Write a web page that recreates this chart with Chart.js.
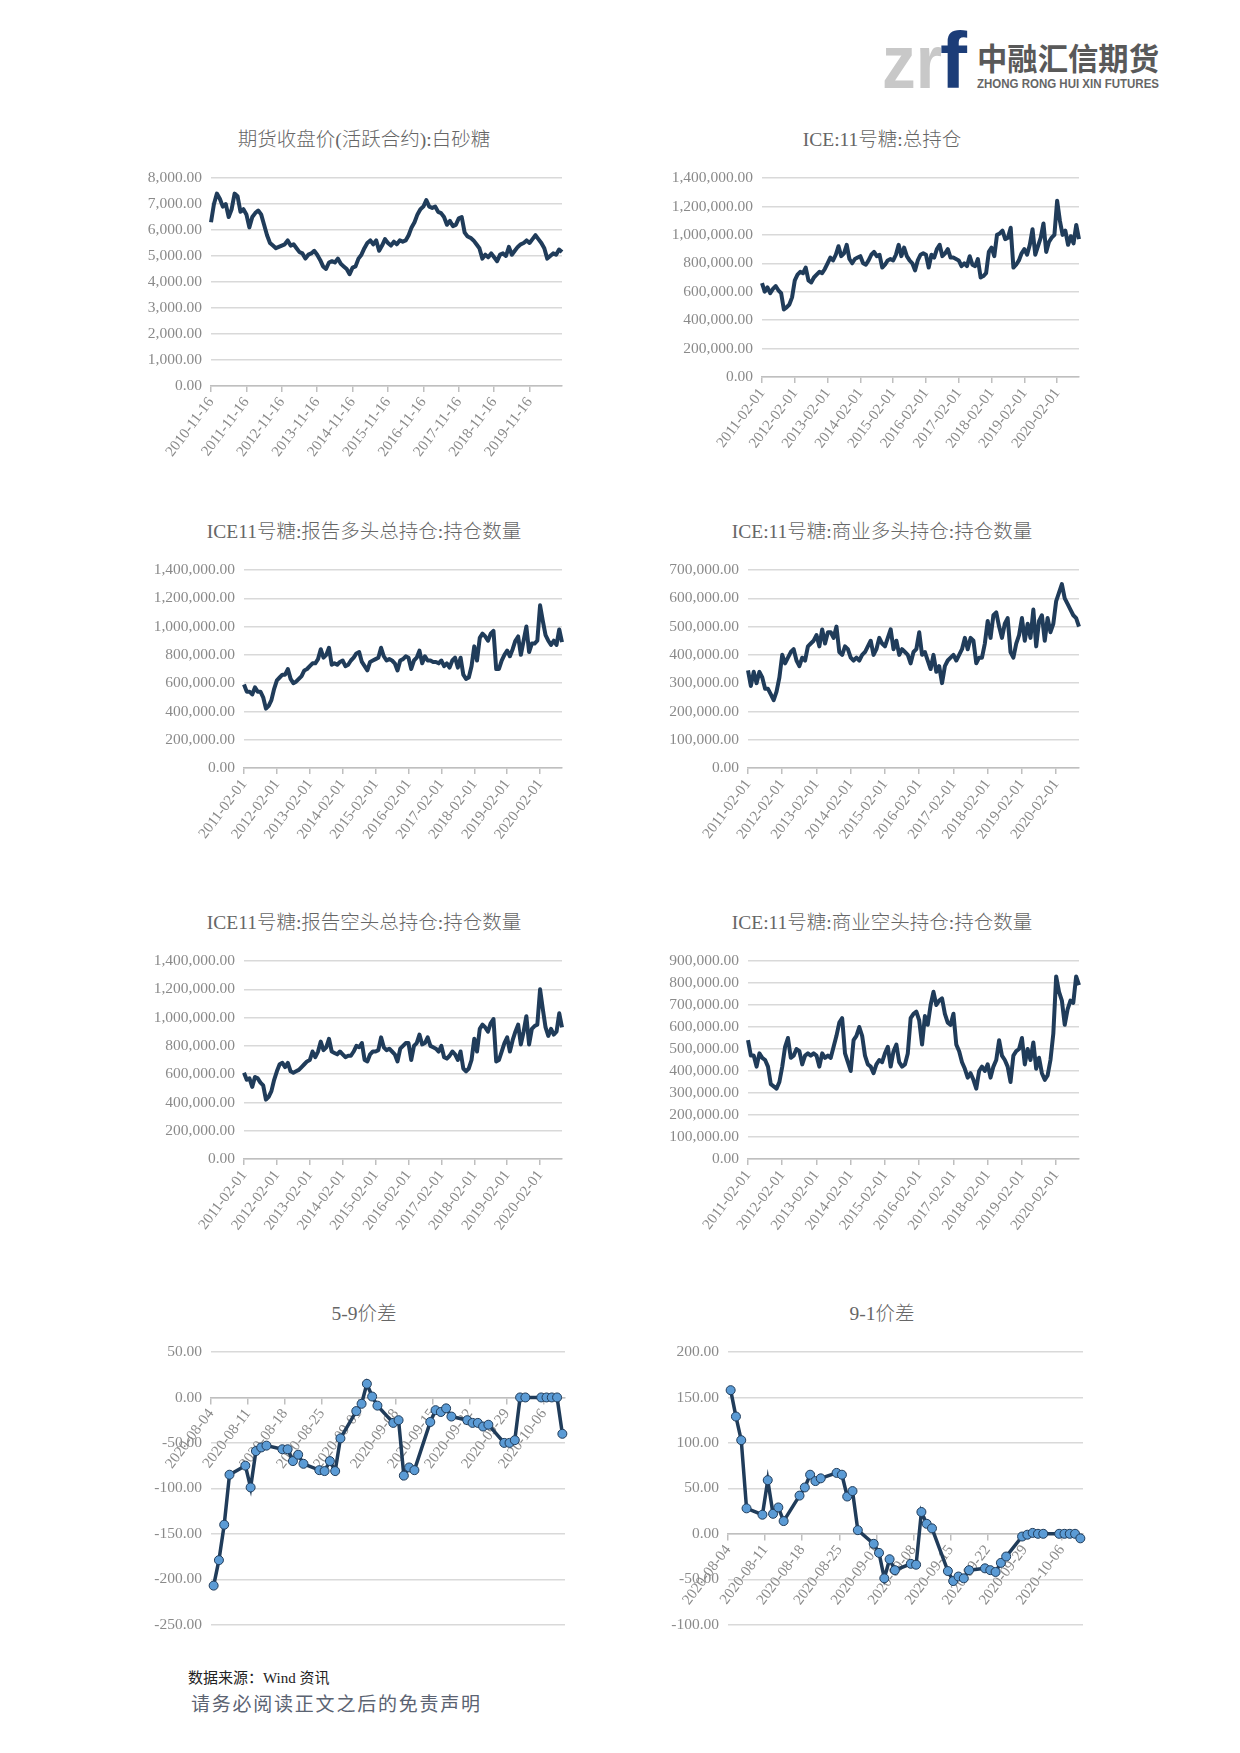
<!DOCTYPE html>
<html>
<head>
<meta charset="utf-8">
<script src="https://cdn.jsdelivr.net/npm/chart.js"></script>
<style>
  html, body { margin: 0; padding: 0; background: #fff; }
  #page { position: relative; width: 1240px; height: 1753px; overflow: hidden; background: #fff; }
  #overlay { position: absolute; left: 0; top: 0; }
</style>
</head>
<body>
<div id="page">
  <svg id="overlay" width="1240" height="1753">
    <text x="882" y="88" style="font-family:'Liberation Sans';font-weight:bold;font-size:76px;fill:#c8c8c8" textLength="60" lengthAdjust="spacingAndGlyphs">zr</text>
    <text x="940" y="88" style="font-family:'Liberation Sans';font-weight:bold;font-size:80px;fill:#1c3d78" textLength="27" lengthAdjust="spacingAndGlyphs">f</text>
    <text x="977" y="70" style="font-family:'Noto Sans CJK SC';font-weight:bold;font-size:31px;fill:#595959" textLength="182" lengthAdjust="spacingAndGlyphs">中融汇信期货</text>
    <text x="977" y="88" style="font-family:'Liberation Sans';font-weight:bold;font-size:12.5px;fill:#666" textLength="182" lengthAdjust="spacingAndGlyphs">ZHONG RONG HUI XIN FUTURES</text>
    <text x="188" y="1683" style="font-family:'Liberation Serif','Noto Sans CJK SC';font-size:15px;fill:#222">数据来源：Wind 资讯</text>
    <text x="191" y="1711" style="font-family:'Noto Sans CJK SC';font-size:19px;fill:#5b6372" textLength="289">请务必阅读正文之后的免责声明</text>
  </svg>
</div>
<script>
// 白砂糖期货收盘价, monthly, 2010-11 .. 2020-10
const sugarClose = [
  6300, 7000, 7400, 7200, 6900, 7000, 6500, 6800, 7400, 7300,
  6700, 6800, 6600, 6100, 6500, 6650, 6750, 6600, 6200, 5800,
  5500, 5400, 5300, 5350, 5400, 5450, 5600, 5400, 5450, 5300,
  5150, 5100, 4900, 5050, 5100, 5200, 5050, 4850, 4600, 4500,
  4750, 4800, 4750, 4900, 4700, 4600, 4500, 4300, 4550, 4600,
  4900, 5050, 5300, 5500, 5600, 5450, 5600, 5200, 5400, 5650,
  5500, 5400, 5550, 5450, 5600, 5550, 5600, 5800, 6100, 6300,
  6600, 6800, 6900, 7150, 6900, 6850, 6900, 6700, 6650, 6500,
  6200, 6350, 6150, 6200, 6450, 6500, 5900, 5750, 5700, 5600,
  5450, 5300, 4900, 5050, 4950, 5100, 4950, 4800, 5050, 5100,
  5000, 5350, 5050, 5200, 5350, 5450, 5500, 5600, 5500, 5650,
  5800, 5650, 5500, 5300, 4900, 5000, 5100, 5050, 5250, 5150
];

// ICE 11号糖 series, monthly, 2011-02 .. 2020-10
const iceTotalOI = [
  660000, 600000, 630000, 590000, 620000, 640000, 610000, 590000, 475000, 490000,
  510000, 560000, 680000, 720000, 740000, 730000, 770000, 680000, 665000, 700000,
  720000, 740000, 730000, 760000, 800000, 840000, 820000, 860000, 920000, 850000,
  870000, 930000, 830000, 800000, 830000, 840000, 850000, 800000, 790000, 820000,
  860000, 880000, 850000, 860000, 770000, 790000, 820000, 830000, 820000, 860000,
  930000, 850000, 910000, 850000, 820000, 800000, 750000, 820000, 860000, 870000,
  860000, 770000, 860000, 840000, 900000, 930000, 850000, 870000, 900000, 840000,
  840000, 830000, 820000, 780000, 800000, 780000, 850000, 790000, 780000, 830000,
  700000, 710000, 730000, 880000, 910000, 850000, 1000000, 1010000, 1030000, 970000,
  980000, 1050000, 770000, 790000, 820000, 870000, 900000, 860000, 930000, 1040000,
  860000, 920000, 980000, 1080000, 880000, 950000, 980000, 1000000, 1240000, 1100000,
  1000000, 1030000, 930000, 990000, 940000, 1070000, 970000
];
const iceLongTotal = [
  590000, 540000, 540000, 520000, 570000, 540000, 540000, 500000, 420000, 440000,
  480000, 560000, 620000, 640000, 660000, 660000, 700000, 630000, 600000, 610000,
  630000, 650000, 690000, 700000, 720000, 740000, 740000, 770000, 840000, 780000,
  800000, 850000, 730000, 740000, 730000, 750000, 760000, 720000, 730000, 760000,
  780000, 810000, 820000, 750000, 720000, 690000, 750000, 760000, 770000, 780000,
  850000, 790000, 760000, 770000, 760000, 740000, 690000, 760000, 770000, 790000,
  780000, 700000, 760000, 780000, 830000, 740000, 790000, 760000, 760000, 750000,
  750000, 740000, 760000, 720000, 740000, 710000, 760000, 780000, 710000, 780000,
  660000, 630000, 640000, 720000, 860000, 760000, 920000, 950000, 930000, 900000,
  950000, 970000, 700000, 700000, 760000, 800000, 830000, 790000, 840000, 900000,
  930000, 800000, 900000, 1000000, 820000, 880000, 880000, 900000, 1150000, 1040000,
  940000, 900000, 870000, 900000, 870000, 980000, 890000
];
const iceCommLong = [
  345000, 290000, 340000, 300000, 340000, 320000, 280000, 280000, 260000, 240000,
  270000, 320000, 400000, 370000, 390000, 410000, 420000, 380000, 360000, 390000,
  380000, 430000, 440000, 450000, 470000, 430000, 490000, 440000, 480000, 480000,
  460000, 500000, 410000, 400000, 430000, 420000, 390000, 380000, 390000, 380000,
  400000, 410000, 430000, 450000, 400000, 420000, 460000, 440000, 430000, 460000,
  490000, 420000, 450000, 400000, 420000, 410000, 400000, 370000, 410000, 420000,
  480000, 400000, 410000, 380000, 350000, 400000, 340000, 360000, 300000, 360000,
  380000, 390000, 400000, 380000, 400000, 420000, 460000, 420000, 460000, 450000,
  370000, 390000, 390000, 440000, 520000, 460000, 540000, 550000, 500000, 460000,
  510000, 530000, 410000, 390000, 440000, 470000, 530000, 450000, 510000, 460000,
  560000, 430000, 520000, 540000, 450000, 530000, 480000, 510000, 590000, 620000,
  650000, 600000, 580000, 560000, 540000, 530000, 500000
];
const iceShortTotal = [
  610000, 560000, 570000, 510000, 580000, 570000, 540000, 520000, 420000, 440000,
  480000, 560000, 620000, 670000, 680000, 650000, 680000, 620000, 610000, 620000,
  630000, 650000, 670000, 690000, 700000, 760000, 720000, 760000, 830000, 770000,
  790000, 850000, 760000, 750000, 740000, 760000, 740000, 720000, 730000, 730000,
  760000, 800000, 790000, 820000, 700000, 690000, 740000, 760000, 760000, 770000,
  860000, 790000, 770000, 780000, 760000, 740000, 690000, 780000, 800000, 820000,
  820000, 700000, 800000, 820000, 880000, 810000, 820000, 860000, 800000, 790000,
  780000, 760000, 800000, 720000, 710000, 730000, 760000, 740000, 700000, 760000,
  640000, 620000, 640000, 700000, 850000, 760000, 920000, 950000, 930000, 900000,
  960000, 990000, 690000, 700000, 760000, 820000, 860000, 760000, 840000, 900000,
  950000, 810000, 900000, 1010000, 810000, 920000, 940000, 950000, 1200000, 1060000,
  930000, 870000, 920000, 880000, 900000, 1030000, 930000
];
const iceCommShort = [
  540000, 470000, 470000, 420000, 480000, 460000, 450000, 420000, 340000, 330000,
  320000, 350000, 420000, 510000, 550000, 460000, 470000, 500000, 490000, 430000,
  470000, 480000, 470000, 480000, 470000, 420000, 480000, 460000, 470000, 460000,
  510000, 560000, 620000, 640000, 480000, 440000, 400000, 540000, 560000, 600000,
  560000, 470000, 430000, 420000, 390000, 430000, 450000, 440000, 480000, 510000,
  420000, 490000, 520000, 440000, 420000, 430000, 480000, 640000, 660000, 670000,
  630000, 520000, 650000, 610000, 700000, 760000, 700000, 720000, 730000, 660000,
  620000, 610000, 660000, 520000, 490000, 440000, 410000, 370000, 390000, 360000,
  320000, 400000, 420000, 400000, 430000, 370000, 420000, 450000, 540000, 470000,
  450000, 420000, 350000, 470000, 490000, 500000, 550000, 430000, 500000, 450000,
  530000, 410000, 460000, 390000, 360000, 380000, 450000, 570000, 830000, 760000,
  720000, 610000, 680000, 720000, 710000, 830000, 790000
];

// 价差, trading days
const spreadDates = [
  '2020-08-04', '2020-08-05', '2020-08-06', '2020-08-07', '2020-08-10', '2020-08-11', '2020-08-12',
  '2020-08-13', '2020-08-14', '2020-08-17', '2020-08-18', '2020-08-19', '2020-08-20', '2020-08-21',
  '2020-08-24', '2020-08-25', '2020-08-26', '2020-08-27', '2020-08-28', '2020-08-31', '2020-09-01',
  '2020-09-02', '2020-09-03', '2020-09-04', '2020-09-07', '2020-09-08', '2020-09-09', '2020-09-10',
  '2020-09-11', '2020-09-14', '2020-09-15', '2020-09-16', '2020-09-17', '2020-09-18', '2020-09-21',
  '2020-09-22', '2020-09-23', '2020-09-24', '2020-09-25', '2020-09-28', '2020-09-29', '2020-09-30',
  '2020-10-01', '2020-10-02', '2020-10-05', '2020-10-06', '2020-10-07', '2020-10-08', '2020-10-09'
];
const spread59 = [
  -207, -179, -140, -85, -75, -99, -59, -55, -53, -57, -57, -70, -63, -73,
  -80, -81, -70, -81, -45, -15, -7, 15, 1, -9, -28, -25, -86, -77,
  -80, -27, -14, -16, -12, -21, -25, -28, -28, -32, -30, -50, -50, -47,
  0, 0, 0, 0, 0, 0, -40
];
const spread91 = [
  158, 129, 103, 28, 21, 59, 22, 29, 14, 42, 51, 65, 58, 61,
  67, 65, 41, 47, 4, -11, -21, -49, -28, -40, -33, -34, 24, 11,
  6, -41, -52, -47, -49, -40, -38, -40, -42, -32, -25, -3, -1, 1,
  0, 0, 0, 0, 0, 0, -5
];

// tick labels
const sugarTicks = ['2010-11-16', '2011-11-16', '2012-11-16', '2013-11-16', '2014-11-16',
  '2015-11-16', '2016-11-16', '2017-11-16', '2018-11-16', '2019-11-16'];
const iceTicks = ['2011-02-01', '2012-02-01', '2013-02-01', '2014-02-01', '2015-02-01',
  '2016-02-01', '2017-02-01', '2018-02-01', '2019-02-01', '2020-02-01'];
const spreadTicks = ['2020-08-04', '2020-08-11', '2020-08-18', '2020-08-25', '2020-09-01',
  '2020-09-08', '2020-09-15', '2020-09-22', '2020-09-29', '2020-10-06'];
const spreadAxisEnd = '2020-10-10';

const NAVY = '#203c5a';
const DOT = '#5b9bd5';
const GRID = '#d9d9d9';
const AXIS = '#bfbfbf';
const TICK_COLOR = '#8a8a8a';
const FONT = '"Liberation Serif", "Noto Sans CJK SC", serif';

const page = document.getElementById('page');
const overlay = document.getElementById('overlay');
// columns: canvas left edge and width (title is centred on the column)
const LEFT = { x: 138, w: 452 };
const RIGHT = { x: 654, w: 456 };

function monthLabels(start, n) {
  let [y, m] = start.split('-').map(Number);
  const out = [];
  for (let i = 0; i < n; i++) {
    out.push(y + '-' + String(m).padStart(2, '0'));
    m++;
    if (m > 12) { m = 1; y++; }
  }
  return out;
}

const fmt = v => Number(v).toLocaleString('en-US', { minimumFractionDigits: 2, maximumFractionDigits: 2 });

function addTitle(text, col, plot) {
  const t = document.createElementNS('http://www.w3.org/2000/svg', 'text');
  t.setAttribute('x', col.x + col.w / 2);
  t.setAttribute('y', plot.t - 32);
  t.setAttribute('text-anchor', 'middle');
  t.setAttribute('style', "font-family:'Liberation Serif','Noto Sans CJK SC';font-weight:300;font-size:19.5px;fill:#666");
  t.textContent = text;
  overlay.appendChild(t);
}

function makeCanvas(box) {
  const c = document.createElement('canvas');
  c.width = box.w;
  c.height = box.h;
  c.style.cssText = `position:absolute;left:${box.x}px;top:${box.y}px;width:${box.w}px;height:${box.h}px`;
  page.appendChild(c);
  return c;
}

function yAxis(box, plot, min, max, step) {
  return {
    min: min, max: max,
    ticks: { stepSize: step, color: TICK_COLOR, font: { family: FONT, size: 15.5 }, padding: 9, callback: v => fmt(v) },
    grid: { color: GRID, lineWidth: 1.5, drawTicks: false },
    border: { display: false },
    afterFit: s => { s.width = plot.l - box.x; }
  };
}

function drawSeries(col, plot, title, labels, values, yMax, yStep, tickLabels) {
  const box = { x: col.x, w: col.w, y: plot.t - 20 };
  box.h = plot.b + 85 - box.y;
  addTitle(title, col, plot);
  const tickMap = {};
  tickLabels.forEach(t => { tickMap[t.slice(0, 7)] = t; });

  new Chart(makeCanvas(box), {
    type: 'line',
    data: {
      labels: labels,
      datasets: [{ data: values, borderColor: NAVY, borderWidth: 4, pointRadius: 0, tension: 0, borderJoinStyle: 'round' }]
    },
    options: {
      responsive: false, animation: false, events: [],
      layout: { padding: { top: 20, right: box.x + box.w - plot.r, bottom: 0, left: 0 } },
      plugins: { legend: { display: false }, tooltip: { enabled: false } },
      scales: {
        x: {
          type: 'category', offset: false,
          grid: { drawOnChartArea: false, drawTicks: true, tickLength: 6, color: AXIS, lineWidth: 1.5 },
          border: { color: AXIS, width: 1.5 },
          ticks: {
            autoSkip: false, minRotation: 53, maxRotation: 53, padding: 2,
            color: TICK_COLOR, font: { family: FONT, size: 15 },
            callback: v => tickMap[labels[v]] || ''
          },
          afterBuildTicks: s => { s.ticks = s.ticks.filter(t => tickMap[labels[t.value]]); },
          afterFit: s => { s.height = box.y + box.h - plot.b; }
        },
        y: yAxis(box, plot, 0, yMax, yStep)
      }
    }
  });
}

function drawSpread(col, plot, title, values, yMin, yMax) {
  const box = { x: col.x, w: col.w, y: plot.t - 20 };
  box.h = plot.b + 14 - box.y;
  addTitle(title, col, plot);
  const day0 = Date.parse(spreadDates[0]);
  const dayOf = s => (Date.parse(s) - day0) / 864e5;
  const points = spreadDates.map((d, i) => ({ x: dayOf(d) + 0.5, y: values[i] }));
  const tickDays = spreadTicks.map(dayOf);

  new Chart(makeCanvas(box), {
    type: 'line',
    data: {
      datasets: [{
        data: points, borderColor: NAVY, borderWidth: 3.5, tension: 0, clip: false,
        pointRadius: 4.5, pointBackgroundColor: DOT, pointBorderColor: NAVY, pointBorderWidth: 1
      }]
    },
    options: {
      responsive: false, animation: false, events: [],
      layout: { padding: { top: 20, right: box.x + box.w - plot.r, bottom: 14, left: 0 } },
      plugins: { legend: { display: false }, tooltip: { enabled: false } },
      scales: {
        x: {
          type: 'linear', min: 0, max: dayOf(spreadAxisEnd), position: { y: 0 },
          grid: { drawOnChartArea: false, drawTicks: true, tickLength: 6, color: AXIS, lineWidth: 1.5 },
          border: { color: AXIS, width: 1.5 },
          ticks: {
            autoSkip: false, minRotation: 53, maxRotation: 53, padding: 2,
            color: TICK_COLOR, font: { family: FONT, size: 15 },
            callback: v => spreadTicks[tickDays.indexOf(v)] || ''
          },
          afterBuildTicks: s => { s.ticks = tickDays.map(v => ({ value: v })); }
        },
        y: yAxis(box, plot, yMin, yMax, 50)
      }
    }
  });
}

const sugarMonths = monthLabels('2010-11', sugarClose.length);
const iceMonths = monthLabels('2011-02', iceTotalOI.length);

drawSeries(LEFT, { l: 211, t: 178, r: 562, b: 386 }, '期货收盘价(活跃合约):白砂糖', sugarMonths, sugarClose, 8000, 1000, sugarTicks);
drawSeries(RIGHT, { l: 762, t: 178, r: 1079, b: 377 }, 'ICE:11号糖:总持仓', iceMonths, iceTotalOI, 1400000, 200000, iceTicks);
drawSeries(LEFT, { l: 244, t: 570, r: 562, b: 768 }, 'ICE11号糖:报告多头总持仓:持仓数量', iceMonths, iceLongTotal, 1400000, 200000, iceTicks);
drawSeries(RIGHT, { l: 748, t: 570, r: 1079, b: 768 }, 'ICE:11号糖:商业多头持仓:持仓数量', iceMonths, iceCommLong, 700000, 100000, iceTicks);
drawSeries(LEFT, { l: 244, t: 961, r: 562, b: 1159 }, 'ICE11号糖:报告空头总持仓:持仓数量', iceMonths, iceShortTotal, 1400000, 200000, iceTicks);
drawSeries(RIGHT, { l: 748, t: 961, r: 1079, b: 1159 }, 'ICE:11号糖:商业空头持仓:持仓数量', iceMonths, iceCommShort, 900000, 100000, iceTicks);
drawSpread(LEFT, { l: 211, t: 1352, r: 565, b: 1629 }, '5-9价差', spread59, -250, 50);
drawSpread(RIGHT, { l: 728, t: 1352, r: 1083, b: 1629 }, '9-1价差', spread91, -100, 200);
</script>
</body>
</html>
